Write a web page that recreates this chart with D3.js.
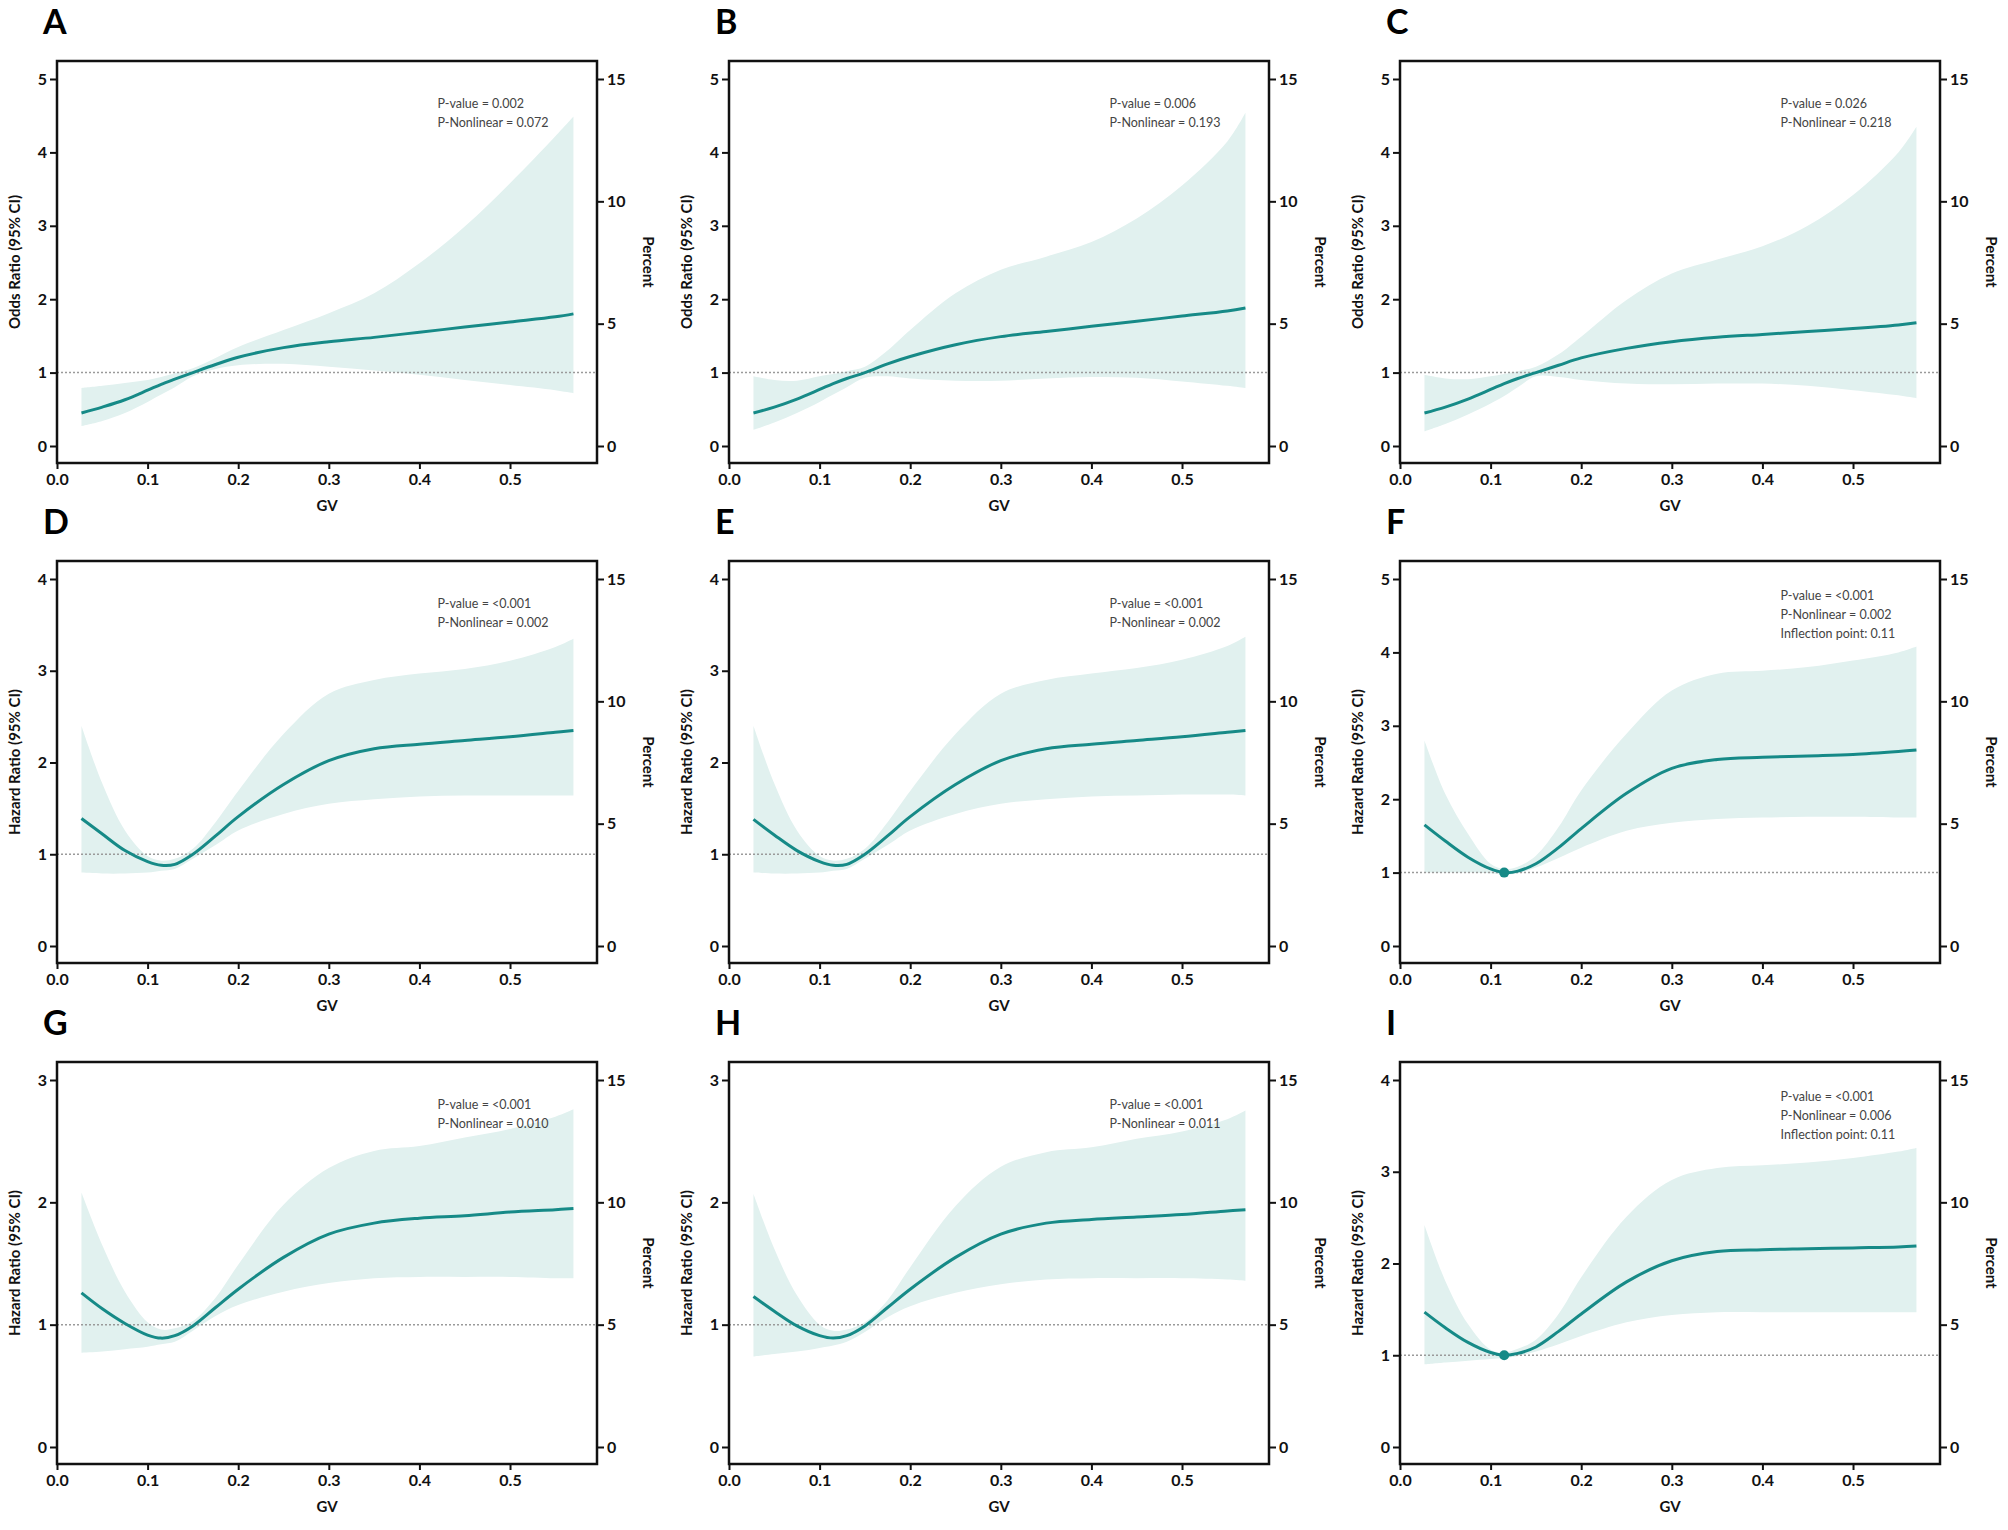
<!DOCTYPE html>
<html lang="en">
<head>
    <meta charset="utf-8">
    <title>GV spline panels</title>
    <script src="https://d3js.org/d3.v7.min.js"></script>
    <style>
        html, body {
            margin: 0;
            padding: 0;
            background: #fff;
        }
        text {
            font-family: Lato, "Open Sans", Arial, sans-serif;
        }
        .tick text {
            font-size: 16px;
            font-weight: bold;
            fill: #111;
        }
        .axis path {
            display: none;
        }
        .axis line {
            stroke: #111;
            stroke-width: 2px;
        }
        .frame {
            fill: none;
            stroke: #111;
            stroke-width: 2.5px;
        }
        .band {
            fill: #e1f1ef;
        }
        .fit {
            fill: none;
            stroke: #168a87;
            stroke-width: 3px;
        }
        .ref {
            stroke: #9a9a9a;
            stroke-width: 1.5px;
            stroke-dasharray: 2,2;
        }
        .title {
            font-size: 15px;
            font-weight: bold;
            fill: #111;
        }
        .note {
            font-size: 12.5px;
            fill: #444;
        }
        .letter {
            font-size: 34px;
            font-weight: bold;
            fill: #000;
        }
    </style>
</head>
<body>
<script type="text/javascript">

    // GV grid shared by every panel
    var gv = [0.027, 0.05, 0.075, 0.1, 0.115, 0.13, 0.15, 0.175, 0.2, 0.25, 0.3, 0.35, 0.4, 0.45, 0.5, 0.55, 0.57];

    var xTicks = [0, 0.1, 0.2, 0.3, 0.4, 0.5];
    var pctTicks = [0, 5, 10, 15];

    // A
    var fitA = [0.45, 0.53, 0.63, 0.76, 0.84, 0.91, 1.0, 1.11, 1.21, 1.34, 1.42, 1.48, 1.55, 1.62, 1.69, 1.76, 1.80];
    var lowA = [0.27, 0.34, 0.45, 0.60, 0.70, 0.80, 0.95, 1.05, 1.10, 1.12, 1.08, 1.03, 0.97, 0.90, 0.83, 0.76, 0.72];
    var upA  = [0.79, 0.82, 0.86, 0.90, 0.94, 0.99, 1.06, 1.20, 1.35, 1.58, 1.81, 2.08, 2.49, 2.99, 3.58, 4.22, 4.49];
    // B
    var fitB = [0.45, 0.53, 0.64, 0.77, 0.85, 0.92, 1.0, 1.12, 1.22, 1.38, 1.49, 1.56, 1.63, 1.70, 1.77, 1.84, 1.88];
    var lowB = [0.22, 0.32, 0.45, 0.60, 0.70, 0.80, 0.93, 0.95, 0.92, 0.89, 0.89, 0.92, 0.94, 0.93, 0.88, 0.82, 0.79];
    var upB  = [0.95, 0.90, 0.89, 0.95, 0.98, 1.02, 1.08, 1.30, 1.58, 2.08, 2.40, 2.58, 2.78, 3.10, 3.55, 4.15, 4.54];
    // C
    var fitC = [0.45, 0.53, 0.64, 0.77, 0.85, 0.92, 1.0, 1.10, 1.20, 1.33, 1.42, 1.48, 1.52, 1.56, 1.60, 1.65, 1.68];
    var lowC = [0.20, 0.30, 0.43, 0.58, 0.68, 0.80, 0.95, 0.94, 0.90, 0.85, 0.84, 0.85, 0.85, 0.82, 0.76, 0.69, 0.65];
    var upC  = [0.97, 0.92, 0.91, 0.95, 0.98, 1.02, 1.08, 1.25, 1.49, 1.99, 2.35, 2.54, 2.72, 3.00, 3.42, 4.00, 4.35];
    // D
    var fitD = [1.39, 1.22, 1.04, 0.92, 0.88, 0.89, 1.0, 1.20, 1.41, 1.76, 2.02, 2.15, 2.20, 2.24, 2.28, 2.33, 2.35];
    var lowD = [0.80, 0.79, 0.79, 0.80, 0.82, 0.84, 0.95, 1.10, 1.26, 1.44, 1.55, 1.60, 1.63, 1.64, 1.64, 1.64, 1.64];
    var upD  = [2.40, 1.77, 1.26, 0.98, 0.93, 0.95, 1.06, 1.35, 1.69, 2.31, 2.75, 2.90, 2.97, 3.02, 3.11, 3.26, 3.35];
    // E
    var fitE = [1.38, 1.21, 1.04, 0.92, 0.88, 0.89, 1.0, 1.20, 1.41, 1.76, 2.02, 2.15, 2.20, 2.24, 2.28, 2.33, 2.35];
    var lowE = [0.80, 0.79, 0.79, 0.80, 0.82, 0.84, 0.95, 1.10, 1.26, 1.44, 1.55, 1.60, 1.63, 1.64, 1.65, 1.65, 1.64];
    var upE  = [2.40, 1.77, 1.26, 0.98, 0.93, 0.95, 1.06, 1.35, 1.69, 2.31, 2.75, 2.90, 2.97, 3.03, 3.12, 3.27, 3.37];
    // F
    var fitF = [1.65, 1.43, 1.21, 1.05, 1.0, 1.02, 1.12, 1.34, 1.60, 2.08, 2.42, 2.54, 2.57, 2.59, 2.61, 2.65, 2.67];
    var lowF = [1.0, 1.0, 1.0, 0.99, 0.97, 0.99, 1.07, 1.20, 1.34, 1.57, 1.68, 1.73, 1.75, 1.76, 1.76, 1.75, 1.75];
    var upF  = [2.80, 2.07, 1.53, 1.12, 1.05, 1.08, 1.23, 1.62, 2.12, 2.89, 3.48, 3.71, 3.75, 3.80, 3.89, 4.00, 4.08];
    // G
    var fitG = [1.26, 1.13, 1.01, 0.915, 0.89, 0.91, 0.99, 1.14, 1.29, 1.55, 1.74, 1.83, 1.87, 1.89, 1.92, 1.94, 1.95];
    var lowG = [0.77, 0.78, 0.80, 0.82, 0.84, 0.86, 0.95, 1.07, 1.16, 1.27, 1.34, 1.38, 1.39, 1.39, 1.39, 1.38, 1.38];
    var upG  = [2.08, 1.65, 1.27, 1.02, 0.96, 0.97, 1.03, 1.22, 1.49, 1.98, 2.28, 2.42, 2.46, 2.53, 2.60, 2.70, 2.76];
    // H
    var fitH = [1.23, 1.11, 0.99, 0.91, 0.89, 0.91, 0.99, 1.14, 1.29, 1.55, 1.74, 1.83, 1.86, 1.88, 1.90, 1.93, 1.94];
    var lowH = [0.74, 0.76, 0.78, 0.81, 0.83, 0.86, 0.94, 1.06, 1.15, 1.26, 1.33, 1.37, 1.38, 1.38, 1.38, 1.37, 1.36];
    var upH  = [2.07, 1.62, 1.24, 1.0, 0.95, 0.96, 1.02, 1.20, 1.47, 1.97, 2.29, 2.41, 2.45, 2.52, 2.58, 2.68, 2.75];
    // I
    var fitI = [1.47, 1.30, 1.14, 1.03, 1.0, 1.02, 1.09, 1.26, 1.45, 1.80, 2.03, 2.13, 2.15, 2.16, 2.17, 2.18, 2.19];
    var lowI = [0.90, 0.92, 0.94, 0.96, 0.97, 0.99, 1.04, 1.12, 1.21, 1.36, 1.44, 1.47, 1.47, 1.47, 1.47, 1.47, 1.47];
    var upI  = [2.42, 1.81, 1.34, 1.06, 1.03, 1.07, 1.17, 1.45, 1.85, 2.51, 2.91, 3.04, 3.07, 3.10, 3.15, 3.22, 3.26];

    var letters = ["A", "B", "C", "D", "E", "F", "G", "H", "I"];
    var yMaxes = [5, 5, 5, 4, 4, 5, 3, 3, 4];
    var yTitles = ["Odds Ratio (95% CI)", "Odds Ratio (95% CI)", "Odds Ratio (95% CI)",
        "Hazard Ratio (95% CI)", "Hazard Ratio (95% CI)", "Hazard Ratio (95% CI)",
        "Hazard Ratio (95% CI)", "Hazard Ratio (95% CI)", "Hazard Ratio (95% CI)"];
    var notes = [
        ["P-value = 0.002", "P-Nonlinear = 0.072"],
        ["P-value = 0.006", "P-Nonlinear = 0.193"],
        ["P-value = 0.026", "P-Nonlinear = 0.218"],
        ["P-value = <0.001", "P-Nonlinear = 0.002"],
        ["P-value = <0.001", "P-Nonlinear = 0.002"],
        ["P-value = <0.001", "P-Nonlinear = 0.002", "Inflection point: 0.11"],
        ["P-value = <0.001", "P-Nonlinear = 0.010"],
        ["P-value = <0.001", "P-Nonlinear = 0.011"],
        ["P-value = <0.001", "P-Nonlinear = 0.006", "Inflection point: 0.11"]
    ];
    var fits = [fitA, fitB, fitC, fitD, fitE, fitF, fitG, fitH, fitI];
    var lows = [lowA, lowB, lowC, lowD, lowE, lowF, lowG, lowH, lowI];
    var ups = [upA, upB, upC, upD, upE, upF, upG, upH, upI];
    // inflection point markers (only F and I)
    var inflection = [null, null, null, null, null, [0.115, 1.0], null, null, [0.115, 1.0]];

    var w = 2008, h = 1530;
    var pw = 540, ph = 402;
    var colX = [57, 729, 1400];
    var rowY = [61, 561, 1062];

    var svg = d3.select("body")
        .append("svg")
        .attr("width", w)
        .attr("height", h);

    var xScale = d3.scaleLinear().domain([0, 0.596]).range([0, pw]);
    var smooth = d3.curveCatmullRom.alpha(0.5);

    letters.forEach(function(letter, i) {
        var g = svg.append("g")
            .attr("transform", "translate(" + colX[i % 3] + "," + rowY[Math.floor(i / 3)] + ")");

        var yScale = d3.scaleLinear().domain([0, yMaxes[i]]).range([ph - 17, 18]);
        var pScale = d3.scaleLinear().domain([0, 15]).range([ph - 17, 18]);

        var rows = gv.map(function(x, k) {
            return {x: x, fit: fits[i][k], low: lows[i][k], up: ups[i][k]};
        });

        // CI band
        var area = d3.area()
            .curve(smooth)
            .x(function(d) { return xScale(d.x); })
            .y0(function(d) { return yScale(d.low); })
            .y1(function(d) { return yScale(d.up); });
        g.append("path").datum(rows).attr("class", "band").attr("d", area);

        // reference line at 1
        g.append("line")
            .attr("class", "ref")
            .attr("x1", 0).attr("x2", pw)
            .attr("y1", yScale(1)).attr("y2", yScale(1));

        var line = d3.line()
            .curve(smooth)
            .x(function(d) { return xScale(d.x); })
            .y(function(d) { return yScale(d.fit); });
        g.append("path").datum(rows).attr("class", "fit").attr("d", line);

        if (inflection[i]) {
            g.append("circle")
                .attr("cx", xScale(inflection[i][0]))
                .attr("cy", yScale(inflection[i][1]))
                .attr("r", 5)
                .attr("fill", "#168a87");
        }

        // axes
        g.append("g")
            .attr("class", "axis")
            .attr("transform", "translate(0," + ph + ")")
            .call(d3.axisBottom(xScale).tickValues(xTicks).tickFormat(d3.format(".1f")).tickSize(6).tickPadding(5));
        g.append("g")
            .attr("class", "axis")
            .call(d3.axisLeft(yScale).ticks(yMaxes[i]).tickFormat(d3.format("d")).tickSize(7).tickPadding(3));
        g.append("g")
            .attr("class", "axis")
            .attr("transform", "translate(" + pw + ",0)")
            .call(d3.axisRight(pScale).tickValues(pctTicks).tickSize(7).tickPadding(3));

        g.append("rect").attr("class", "frame").attr("width", pw).attr("height", ph);

        // titles
        g.append("text")
            .attr("class", "title")
            .attr("text-anchor", "middle")
            .attr("x", pw / 2)
            .attr("y", ph + 48)
            .text("GV");
        g.append("text")
            .attr("class", "title")
            .attr("text-anchor", "middle")
            .attr("transform", "translate(-37," + (ph / 2) + ") rotate(-90)")
            .text(yTitles[i]);
        g.append("text")
            .attr("class", "title")
            .attr("text-anchor", "middle")
            .attr("transform", "translate(" + (pw + 46) + "," + (ph / 2) + ") rotate(90)")
            .text("Percent");

        g.append("text")
            .attr("class", "letter")
            .attr("x", -14)
            .attr("y", -27)
            .text(letter);

        var top = notes[i].length > 2 ? 39 : 47;
        g.selectAll(".note")
            .data(notes[i])
            .enter()
            .append("text")
            .attr("class", "note")
            .attr("x", xScale(0.42))
            .attr("y", function(d, k) { return top + k * 19; })
            .text(function(d) { return d; });
    });

</script>
</body>
</html>
